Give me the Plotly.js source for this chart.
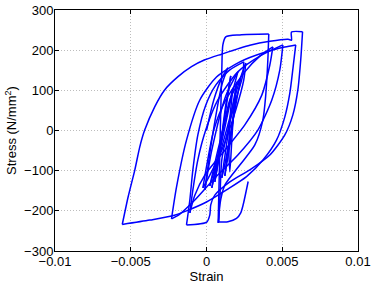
<!DOCTYPE html>
<html>
<head>
<meta charset="utf-8">
<script src="https://cdn.plot.ly/plotly-3.0.1.min.js"></script>
<style>html,body{margin:0;padding:0;background:#fff;}#chart{width:374px;height:284px;}</style>
</head>
<body>
<div id="chart"></div>
<script>
// Strain / stress path (hysteresis history)
const strain = [
  0, 0.00048, 0.00101, 0.00141, 0.00101, 0.00035, -0.00011, 0.00035, 0.00127, 0.00207,
  0.00167, 0.00088, 0.00022, 0.00075, 0.00141, 0.00174, 0.00154, 0.00147, 0.00154, 0.00167,
  0.00180, 0.00200, 0.00167, 0.00088, 0.00055, 0.00088, 0.00127, 0.00160, 0.00127, 0.00075,
  0.00035, 0.00081, 0.00154, 0.00226, 0.00193, 0.00141, 0.00121, 0.00154, 0.00180, 0.00193,
  0.00174, 0.00127, 0.00101,
  0.00127, 0.00167, 0.00220, 0.00259, 0.00246, 0.00193, 0.00101, 0.00022, -0.00024,
  0.00002, 0.00048, 0.00127, 0.00253, 0.00352, 0.00438,
  0.00418, 0.00365, 0.00253, 0.00121, -0.00011, -0.00077, -0.00110,
  -0.00090, -0.00057, -0.00005, 0.00075, 0.00207, 0.00352, 0.00504,
  0.00484, 0.00431, 0.00339, 0.00207, 0.00055, -0.00077, -0.00176, -0.00231,
  -0.00198, -0.00132, -0.00044, 0.00066, 0.00220, 0.00385, 0.00517, 0.00589,
  0.00572, 0.00550, 0.00517, 0.00462, 0.00374, 0.00264, 0.00132, 0, -0.00132, -0.00231, -0.00374, -0.00556,
  -0.00517, -0.00473, -0.00440, -0.00408, -0.00342, -0.00276, -0.00188, -0.00099, -0.00011, 0.00099,
  0.00286, 0.00418, 0.00539, 0.00561, 0.00561, 0.00634,
  0.00622, 0.00603, 0.00570, 0.00517, 0.00418, 0.00286, 0.00154, 0.00055, 0.00028, 0.00022, 0.00002, -0.00132,
  -0.00110, -0.00090, -0.00057, -0.00005, 0.00061, 0.00154, 0.00246,
  0.00240, 0.00193, 0.00141, 0.00101, 0.00088, 0.00081, 0.00077,
  0.00088, 0.00101, 0.00108, 0.00127, 0.00220, 0.00411, 0.00405, 0.00391, 0.00372,
  0.00319, 0.00220, 0.00121, 0.00088, 0.00081,
  0.00141, 0.00198, 0.00226, 0.00242, 0.00275
];
const stress = [
  0, 76, 131, 156, 113, -24, -148, -49, 86, 146,
  88, -49, -138, -49, 51, 106, 26, -49, -103, -24,
  51, 121, 51, -61, -128, -49, 63, 136, 51, -73,
  -143, -49, 76, 131, 63, -49, -113, -36, 39, 88,
  26, -73, -118,
  -49, 51, 126, 168, 126, 51, -49, -111, -143,
  -86, 1, 76, 146, 185, 208,
  163, 88, 14, -49, -111, -161, -205,
  -148, -73, 1, 76, 146, 185, 213,
  151, 76, 1, -61, -118, -173, -208, -220,
  -141, -24, 76, 133, 171, 195, 208, 213,
  159, 93, 34, -24, -73, -115, -148, -178, -200, -213, -223, -234,
  -165, -98, -40, 1, 59, 101, 134, 159, 176, 190,
  212, 222, 227, 225, 245, 246,
  176, 101, 39, -11, -61, -98, -128, -161, -185, -210, -228, -235,
  -173, -98, -11, 63, 113, 151, 171,
  138, 76, 1, -73, -173, -218, -230,
  -49, 151, 213, 233, 238, 240, 176, 88, 26,
  -36, -86, -136, -185, -228,
  -227, -219, -205, -185, -127
];
const xTicks = [-0.01, -0.005, 0, 0.005, 0.01];
const xTickText = ['\u22120.01', '\u22120.005', '0', '0.005', '0.01'];
const yTicks = [-300, -200, -100, 0, 100, 200, 300];
const yTickText = ['\u2212300', '\u2212200', '\u2212100', '0', '100', '200', '300'];

// split the path into branches where the strain direction reverses, so each
// branch is smoothed on its own and the load-reversal tips stay sharp
const traces = [];
let start = 0, dir = 0;
for (let i = 1; i < strain.length; i++) {
  const d = Math.sign(strain[i] - strain[i - 1]);
  if (d !== 0 && dir !== 0 && d !== dir) {
    traces.push([start, i - 1]);
    start = i - 1;
  }
  if (d !== 0) dir = d;
}
traces.push([start, strain.length - 1]);

const data = traces.map(([a, b]) => ({
  x: strain.slice(a, b + 1), y: stress.slice(a, b + 1),
  type: 'scatter', mode: 'lines',
  line: {color: '#0000ff', width: 1.5, shape: 'spline', smoothing: 0.7},
  hoverinfo: 'none', showlegend: false
}));

const font = {family: 'Liberation Sans, Arial, sans-serif', size: 13, color: '#000'};
const axisCommon = {
  showline: true, linecolor: '#000', linewidth: 1, mirror: 'ticks',
  ticks: 'inside', ticklen: 4, tickcolor: '#000', tickwidth: 1,
  showgrid: true, gridcolor: '#bdbdbd', griddash: '1px,2px', gridwidth: 1,
  zeroline: false, tickfont: font, tickmode: 'array'
};
const layout = {
  width: 374, height: 284,
  margin: {l: 55, r: 16, t: 10, b: 33, pad: 0},
  paper_bgcolor: '#fff', plot_bgcolor: '#fff',
  showlegend: false, font: font,
  xaxis: Object.assign({}, axisCommon, {
    range: [-0.01, 0.01], tickvals: xTicks, ticktext: xTickText,
    ticklabelstandoff: -2,
    title: {text: 'Strain', font: font, standoff: 1}
  }),
  yaxis: Object.assign({}, axisCommon, {
    range: [-300, 300], tickvals: yTicks, ticktext: yTickText,
    ticklabelstandoff: -2,
    title: {text: 'Stress (N/mm<sup>2</sup>)', font: font, standoff: 4}
  })
};
Plotly.newPlot('chart', data, layout, {staticPlot: true, displayModeBar: false});
</script>
</body>
</html>
